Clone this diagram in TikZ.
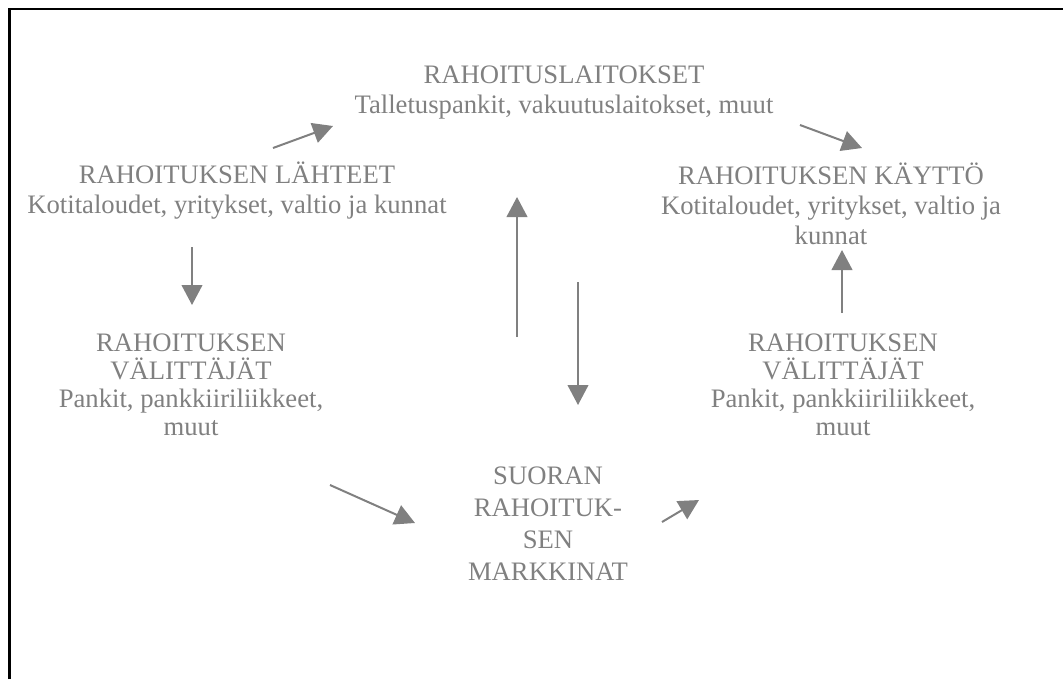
\documentclass[tikz,border=0pt]{standalone}
\usepackage{fontspec}
\setmainfont{Liberation Serif}
\usetikzlibrary{arrows.meta}
\definecolor{txtgray}{HTML}{808080}

\begin{document}
\begin{tikzpicture}[x=0.75pt, y=-0.75pt,
    lbl/.style={text=txtgray, align=center, inner sep=0pt, anchor=base,
                font=\fontsize{20}{22.5}\selectfont},
    flow/.style={draw=txtgray, fill=txtgray, line width=1.5pt,
                 -{Triangle[length=15pt,width=15.5pt]}}]
   \useasboundingbox (0,0) rectangle (1063,679);

   % Draw frame (open at right and bottom)
   \draw[line width=2pt] (9.5,679) -- (9.5,9) -- (1063,9);

   % Text blocks (anchored at the baseline of their last line)
   \node[lbl] (laitokset) at (564,113) {RAHOITUSLAITOKSET\\Talletuspankit, vakuutuslaitokset, muut};
   \node[lbl] (lahteet) at (237,213) {RAHOITUKSEN LÄHTEET\\Kotitaloudet, yritykset, valtio ja kunnat};
   \node[lbl] (kaytto) at (831,244) {RAHOITUKSEN KÄYTTÖ\\Kotitaloudet, yritykset, valtio ja\\kunnat};
   \node[lbl, font=\fontsize{20}{21}\selectfont] (valittajatL) at (191,435) {RAHOITUKSEN\\VÄLITTÄJÄT\\Pankit, pankkiiriliikkeet,\\muut};
   \node[lbl, font=\fontsize{20}{21}\selectfont] (valittajatR) at (843,435) {RAHOITUKSEN\\VÄLITTÄJÄT\\Pankit, pankkiiriliikkeet,\\muut};
   \node[lbl, font=\fontsize{20}{23.8}\selectfont] (markkinat) at (548,580) {SUORAN\\RAHOITUK-\\SEN\\MARKKINAT};

   % Arrow end points
   \coordinate (lahteet-out) at (273,148);   \coordinate (laitokset-in) at (333,126);
   \coordinate (laitokset-out) at (800,125); \coordinate (kaytto-in) at (862,148);
   \coordinate (lahteet-down) at (192,247);  \coordinate (valittajatL-in) at (192,305);
   \coordinate (markkinat-up) at (517,337);  \coordinate (laitokset-low) at (517,197);
   \coordinate (laitokset-down) at (578,282); \coordinate (markkinat-top) at (578,405);
   \coordinate (valittajatR-up) at (842,313); \coordinate (kaytto-low) at (842,250);
   \coordinate (valittajatL-out) at (330,485); \coordinate (markkinat-in) at (415,523);
   \coordinate (markkinat-out) at (662,522); \coordinate (valittajatR-in) at (699,500);

   % Draw flows
   \draw[flow] (lahteet-out) -- (laitokset-in);
   \draw[flow] (laitokset-out) -- (kaytto-in);
   \draw[flow] (lahteet-down) -- (valittajatL-in);
   \draw[flow] (markkinat-up) -- (laitokset-low);
   \draw[flow] (laitokset-down) -- (markkinat-top);
   \draw[flow] (valittajatR-up) -- (kaytto-low);
   \draw[flow] (valittajatL-out) -- (markkinat-in);
   \draw[flow] (markkinat-out) -- (valittajatR-in);

\end{tikzpicture}
\end{document}
